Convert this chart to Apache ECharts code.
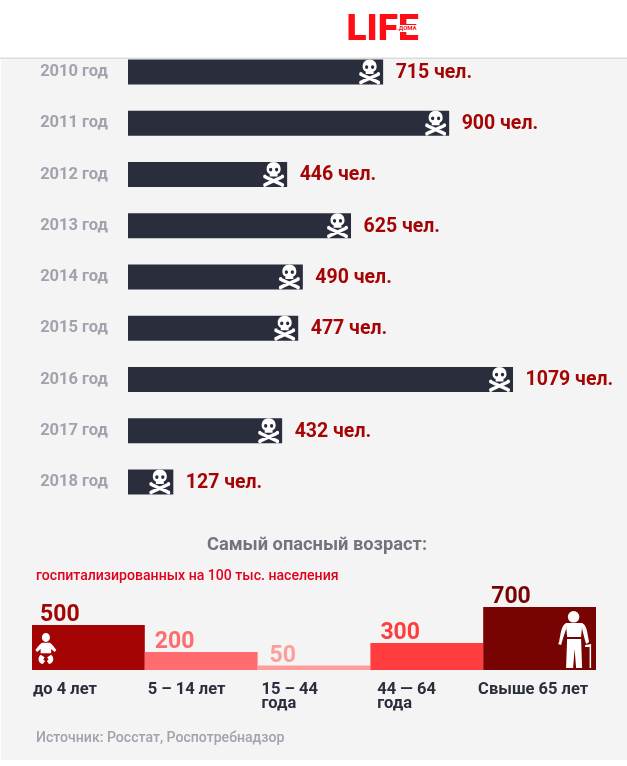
<!DOCTYPE html>
<html>
<head>
<meta charset="utf-8">
<title>Life.ru</title>
<style>
  html, body { margin: 0; padding: 0; background: #fff; }
  #chart { width: 627px; height: 766px; }
</style>
<script src="https://cdn.jsdelivr.net/npm/echarts@6/dist/echarts.min.js"></script>
</head>
<body>
<div id="chart"></div>
<script>
// верхний график: умершие по годам
const years = ['2010 год', '2011 год', '2012 год', '2013 год', '2014 год', '2015 год', '2016 год', '2017 год', '2018 год'];
const deaths = [715, 900, 446, 625, 490, 477, 1079, 432, 127];

// нижний график: возраст
const ages = ['до 4 лет', '5 – 14 лет', '15 – 44\nгода', '44 — 64\nгода', 'Свыше 65 лет'];
const ageValues = [500, 200, 50, 300, 700];
const ageColors = ['#a50404', '#ff6b6e', '#ff9c9c', '#ff3c3e', '#780303'];

// сдвиги подписей внутри столбца
const ageTickShift = [-55.5, -53.5, -52.5, -49.5, -61.5];
const ageValueShift = [8, 10, 12, 10, 8];

const FONT = 'Roboto';

const skull = 'path://M12 0C7 0 4 3 4 7C4 9.5 5 11 7.5 12L7.5 14.5L16.5 14.5L16.5 12C19 11 20 9.5 20 7C20 3 17 0 12 0Z' +
  'M8.6 5.6a1.9 1.9 0 1 1 0 3.8a1.9 1.9 0 1 1 0 -3.8Z' +
  'M15.4 5.6a1.9 1.9 0 1 1 0 3.8a1.9 1.9 0 1 1 0 -3.8Z' +
  'M3.8 13.6L21.8 20.8L20.2 24L2.2 16.8Z' +
  'M20.2 13.6L21.8 16.8L3.8 24L2.2 20.8Z' +
  'M2 12.5a2 2 0 1 1 0 4a2 2 0 1 1 0 -4Z' +
  'M22 12.5a2 2 0 1 1 0 4a2 2 0 1 1 0 -4Z' +
  'M2 21a2 2 0 1 1 0 4a2 2 0 1 1 0 -4Z' +
  'M22 21a2 2 0 1 1 0 4a2 2 0 1 1 0 -4Z';

const baby = 'path://M12 0a4.6 4.6 0 1 1 0 9.2a4.6 4.6 0 1 1 0 -9.2Z' +
  'M8 10L16 10C18 10.5 21 14 24 17.5L22 19.5L18 16.5L18 21L6 21L6 16.5L2 19.5L0 17.5C3 14 6 10.5 8 10Z' +
  'M6 22.5L10.5 25L9 27.5L11 29L8.5 32C5 32 2 28 4.5 24Z' +
  'M18 22.5L13.5 25L15 27.5L13 29L15.5 32C19 32 22 28 19.5 24Z';

const oldMan = 'path://M15.5 0a5.8 5.8 0 1 1 0 11.6a5.8 5.8 0 1 1 0 -11.6Z' +
  'M8 12L24 12L24 15L23 26L9 26L8 15Z' +
  'M8 12L8 18L5 27L3 34L0 33L1 31C3 19 4 14 8 12Z' +
  'M24 12C28 14 29 19 30 26L31 31L28 33L26 26L24 18Z' +
  'M9 28L23 28L24 57L18 57L16.5 38L15 57L8 57Z' +
  'M27 34L33 33L33 57L31.5 57L31.5 36L27 36Z';

const chart = echarts.init(document.getElementById('chart'));

chart.setOption({
  animation: false,
  textStyle: { fontFamily: FONT },
  title: [
    {
      text: 'Самый опасный возраст:',
      left: 312, top: 531, textAlign: 'center',
      textStyle: { fontFamily: FONT, fontSize: 18.3, fontWeight: 700, color: '#737380' }
    },
    {
      text: 'госпитализированных на 100 тыс. населения',
      left: 31, top: 564,
      textStyle: { fontFamily: FONT, fontSize: 14.1, fontWeight: 500, color: '#e3001b' }
    },
    {
      text: 'Источник: Росстат, Роспотребнадзор',
      left: 31, top: 726,
      textStyle: { fontFamily: FONT, fontSize: 14.1, fontWeight: 500, color: '#a2a2ae' }
    }
  ],
  grid: [
    { left: 128, top: 46.4, width: 428.2, height: 461.25 },
    { left: 32, top: 580, width: 564, height: 90 }
  ],
  xAxis: [
    { gridIndex: 0, type: 'value', min: 0, max: 1200, show: false },
    {
      gridIndex: 1,
      type: 'category',
      data: ages.map((a, i) => ({ value: a, textStyle: { align: 'left', padding: [0, 0, 0, ageTickShift[i]] } })),
      axisLine: { show: false },
      axisTick: { show: false },
      axisLabel: {
        interval: 0, align: 'left', margin: 13, lineHeight: 14,
        fontFamily: FONT, fontSize: 16.5, fontWeight: 700, color: '#2a2d3c'
      }
    }
  ],
  yAxis: [
    {
      gridIndex: 0,
      type: 'category',
      inverse: true,
      data: years,
      axisLine: { show: false },
      axisTick: { show: false },
      axisLabel: { margin: 20, padding: [2, 0, 0, 0], fontFamily: FONT, fontSize: 16.5, fontWeight: 700, color: '#a2a2ae' }
    },
    { gridIndex: 1, type: 'value', min: 0, max: 1000, show: false }
  ],
  series: [
    {
      type: 'bar',
      xAxisIndex: 0, yAxisIndex: 0,
      data: deaths,
      barWidth: 25,
      itemStyle: { color: '#2a2d3c' },
      label: {
        show: true, position: 'right', distance: 12.5, offset: [0, 1],
        formatter: '{c} чел.',
        fontFamily: FONT, fontSize: 19.5, fontWeight: 700, color: '#a50404'
      }
    },
    {
      // череп у конца каждого столбца
      type: 'pictorialBar',
      xAxisIndex: 0, yAxisIndex: 0,
      data: deaths,
      symbol: skull,
      symbolSize: [21, 25],
      symbolPosition: 'end',
      symbolOffset: [-3, 0],
      itemStyle: { color: '#fff' },
      z: 3
    },
    {
      type: 'bar',
      xAxisIndex: 1, yAxisIndex: 1,
      barCategoryGap: 0,
      data: ageValues.map((v, i) => ({
        value: v,
        itemStyle: { color: ageColors[i] },
        label: { position: [ageValueShift[i], 2], color: ageColors[i] }
      })),
      label: {
        show: true, verticalAlign: 'bottom', align: 'left',
        fontFamily: FONT, fontSize: 23, fontWeight: 700
      }
    },
    {
      type: 'pictorialBar',
      xAxisIndex: 1, yAxisIndex: 1,
      data: ageValues.map((v, i) => (i === 0 ? v : '-')),
      symbol: baby,
      symbolSize: [21, 31],
      symbolPosition: 'start',
      symbolOffset: [-42.5, -6],
      itemStyle: { color: '#fff' },
      z: 3
    },
    {
      type: 'pictorialBar',
      xAxisIndex: 1, yAxisIndex: 1,
      data: ageValues.map((v, i) => (i === 4 ? v : '-')),
      symbol: oldMan,
      symbolSize: [33, 57],
      symbolPosition: 'start',
      symbolOffset: [35, -2],
      itemStyle: { color: '#fff' },
      z: 3
    }
  ],
  graphic: [
    // серая подложка
    { type: 'rect', z: -10, silent: true, shape: { x: 1, y: 58, width: 626, height: 702 }, style: { fill: '#f4f4f5' } },
    // шапка с логотипом
    { type: 'rect', z: 10, silent: true, shape: { x: 0, y: 0, width: 627, height: 58 }, style: { fill: '#fff' } },
    { type: 'rect', z: 10, silent: true, shape: { x: 0, y: 57.5, width: 627, height: 1.5 }, style: { fill: '#dcdcdc' } },
    {
      type: 'text', z: 11, silent: true, x: 346.5, y: 12,
      style: { text: 'LIFE', fill: '#ff0d14', font: '900 37px Roboto' }
    },
    { type: 'rect', z: 11, silent: true, shape: { x: 397, y: 25, width: 20, height: 7 }, style: { fill: '#fff' } },
    {
      type: 'text', z: 12, silent: true, x: 397, y: 25.5,
      style: { text: '.ДОМА', fill: '#ff0d14', font: '700 6px Roboto' }
    }
  ]
});
</script>
</body>
</html>
